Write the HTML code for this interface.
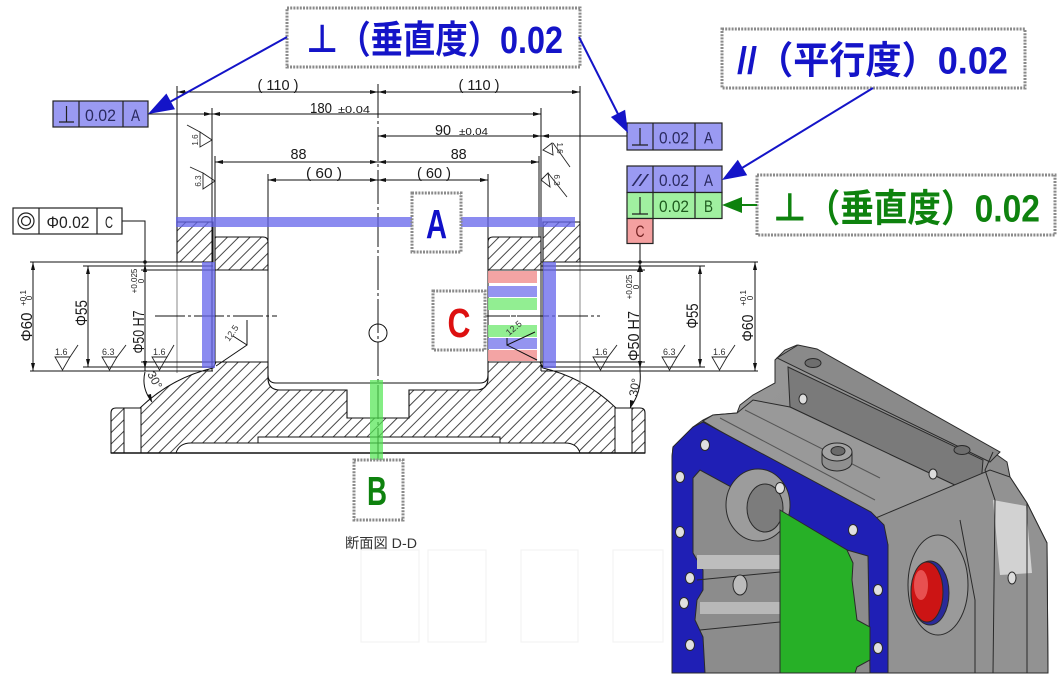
<!DOCTYPE html>
<html><head><meta charset="utf-8">
<style>html,body{margin:0;padding:0;background:#fff}svg{display:block}</style>
</head><body>
<svg width="1059" height="681" viewBox="0 0 1059 681" xmlns="http://www.w3.org/2000/svg" font-family="'Liberation Sans','Noto Sans CJK JP',sans-serif">
<defs>
<pattern id="h" width="8" height="8" patternUnits="userSpaceOnUse" patternTransform="rotate(45)"><rect width="8" height="8" fill="#fff"/><line x1="0.5" y1="0" x2="0.5" y2="8" stroke="#333" stroke-width="0.9"/></pattern>
<linearGradient id="gbody" x1="0" y1="0" x2="1" y2="1"><stop offset="0" stop-color="#9a9a9a"/><stop offset="1" stop-color="#858585"/></linearGradient>
</defs>
<rect width="1059" height="681" fill="#fff"/>

<!-- faint ghost rects -->
<g fill="none" stroke="#f3f3f3" stroke-width="1.2">
<rect x="361" y="550" width="58" height="92"/><rect x="428" y="550" width="58" height="92"/><rect x="521" y="550" width="57" height="92"/><rect x="613" y="550" width="50" height="92"/>
</g>

<!-- hatched section -->
<g stroke="#111" stroke-width="1.1" fill="url(#h)">
<path d="M177 222 H213 V262 H177 Z"/>
<path d="M215 237 H263 Q268 237 268 242 V270 H215 Z"/>
<path d="M543 222 H580 V262 H543 Z"/>
<path d="M541 237 H493 Q488 237 488 242 V270 H541 Z"/>
<path d="M213 368 L216 362 H268 V378 Q268 390 280 390 H347 V418 H409 V390 H476 Q488 390 488 378 V362 H540 L543 368 Q585 378 616 408 H640 Q645 408 645 413 V453 H111 V413 Q111 408 116 408 H140 Q171 378 213 368 Z"/>
</g>
<g fill="#fff" stroke="#111" stroke-width="1">
<rect x="124" y="408" width="17" height="45"/>
<rect x="615" y="408" width="17" height="45"/>
<path d="M258 437 H500 V443 H258 Z"/>
<path d="M176 453 Q179 443 191 443 H565 Q577 443 580 453 Z"/>
</g>
<line x1="111" y1="453" x2="645" y2="453" stroke="#111" stroke-width="1.4"/>

<!-- cavity, lines -->
<g stroke="#111" stroke-width="1" fill="none">
<path d="M268 174 V375 Q268 383 276 383 H480 Q488 383 488 375 V174"/>
<line x1="177" y1="86" x2="177" y2="222"/>
<line x1="580" y1="86" x2="580" y2="222"/>
<line x1="212" y1="108" x2="212" y2="371"/>
<line x1="215" y1="156" x2="215" y2="362"/>
<line x1="541" y1="108" x2="541" y2="371"/>
<line x1="539" y1="156" x2="539" y2="237"/>
<line x1="543" y1="262" x2="543" y2="368"/>
<line x1="177" y1="262" x2="177" y2="373" stroke="#888"/>
<line x1="580" y1="262" x2="580" y2="385" stroke="#888"/>
<line x1="30" y1="262" x2="213" y2="262"/>
<line x1="83" y1="266" x2="213" y2="266"/>
<line x1="141" y1="270" x2="215" y2="270"/>
<line x1="141" y1="362" x2="216" y2="362"/>
<line x1="83" y1="367" x2="213" y2="367"/>
<line x1="30" y1="371" x2="213" y2="371"/>
<line x1="541" y1="262" x2="758" y2="262"/>
<line x1="541" y1="266" x2="705" y2="266"/>
<line x1="541" y1="270" x2="645" y2="270"/>
<line x1="540" y1="362" x2="645" y2="362"/>
<line x1="541" y1="367" x2="705" y2="367"/>
<line x1="541" y1="371" x2="758" y2="371"/>
<line x1="378" y1="84" x2="378" y2="468" stroke-dasharray="34 3 3 3"/>
<line x1="155" y1="316" x2="277" y2="316" stroke-dasharray="30 3 3 3"/>
<line x1="480" y1="316" x2="600" y2="316" stroke-dasharray="30 3 3 3"/>
<circle cx="378" cy="333" r="9"/>
<line x1="177" y1="92" x2="580" y2="92"/>
<line x1="148" y1="114" x2="541" y2="114"/>
<line x1="378" y1="136" x2="627" y2="136"/>
<line x1="215" y1="162" x2="539" y2="162"/>
<line x1="268" y1="180" x2="488" y2="180"/>
<line x1="33" y1="262" x2="33" y2="371"/>
<line x1="88" y1="266" x2="88" y2="367"/>
<polyline points="122,221 145,221 145,371"/>
<line x1="640" y1="243" x2="640" y2="371"/>
<line x1="700" y1="266" x2="700" y2="367"/>
<line x1="755" y1="262" x2="755" y2="371"/>
<path d="M145 372 Q141 388 152 402"/>
<path d="M640 371 Q642 392 630 408"/>
<path d="M247 320 V345 L216 366 M233 336 L247 345"/>
</g>

<!-- arrowheads -->
<g fill="#111">
<polygon points="177,92 185,90 185,94"/><polygon points="378,92 370,90 370,94"/><polygon points="378,92 386,90 386,94"/><polygon points="580,92 572,90 572,94"/>
<polygon points="212,114 204,112 204,116"/><polygon points="212,114 220,112 220,116"/><polygon points="541,114 533,112 533,116"/>
<polygon points="378,136 386,134 386,138"/><polygon points="541,136 533,134 533,138"/><polygon points="541,136 549,134 549,138"/>
<polygon points="215,162 223,160 223,164"/><polygon points="378,162 370,160 370,164"/><polygon points="378,162 386,160 386,164"/><polygon points="539,162 531,160 531,164"/>
<polygon points="268,180 276,178 276,182"/><polygon points="378,180 370,178 370,182"/><polygon points="378,180 386,178 386,182"/><polygon points="488,180 480,178 480,182"/>
<polygon points="33,262 31,270 35,270"/><polygon points="33,371 31,363 35,363"/>
<polygon points="88,266 86,274 90,274"/><polygon points="88,367 86,359 90,359"/>
<polygon points="145,264 143,272 147,272"/><polygon points="145,369 143,361 147,361"/>
<polygon points="640,264 637,272 643,272"/><polygon points="640,369 638,361 642,361"/>
<polygon points="700,266 698,274 702,274"/><polygon points="700,367 698,359 702,359"/>
<polygon points="755,262 753,270 757,270"/><polygon points="755,371 753,363 757,363"/>
<polygon points="152,402 147,395 151,394"/><polygon points="630,408 630,400 634,401"/>
<circle cx="145" cy="262" r="1.8"/><circle cx="640" cy="262" r="1.8"/>
</g>

<!-- roughness symbols -->
<g stroke="#222" stroke-width="0.9" fill="none">
<polygon points="200,132 200,147 212,140"/><line x1="187" y1="125" x2="200" y2="132"/>
<polygon points="203,173 203,189 215,181"/><line x1="190" y1="167" x2="203" y2="173"/>
<polygon points="543,150 552,143 553,155"/><line x1="553" y1="143" x2="570" y2="167"/>
<polygon points="541,180 548,173 550,187"/><line x1="548" y1="173" x2="567" y2="197"/>
<polygon points="55,357 70,357 62.5,370"/><line x1="70" y1="357" x2="78" y2="345"/>
<polygon points="102,357 117,357 109.5,370"/><line x1="117" y1="357" x2="126" y2="345"/>
<polygon points="152,357 167,357 159.5,370"/><line x1="167" y1="357" x2="174" y2="345"/>
<polygon points="593,357 608,357 600.5,370"/><line x1="608" y1="357" x2="617" y2="345"/>
<polygon points="662,357 677,357 669.5,370"/><line x1="677" y1="357" x2="685" y2="345"/>
<polygon points="712,357 727,357 719.5,370"/><line x1="727" y1="357" x2="735" y2="345"/>
</g>
<g fill="#333" font-size="9">
<text x="55" y="355">1.6</text><text x="102" y="355">6.3</text><text x="153" y="355">1.6</text>
<text x="595" y="355">1.6</text><text x="663" y="355">6.3</text><text x="713" y="355">1.6</text>
<text transform="translate(198,140) rotate(-90)" text-anchor="middle" font-size="8">1.6</text>
<text transform="translate(201,181) rotate(-90)" text-anchor="middle" font-size="8">6.3</text>
<text transform="translate(557,148) rotate(90)" text-anchor="middle" font-size="8">1.6</text>
<text transform="translate(554,180) rotate(90)" text-anchor="middle" font-size="8">6.3</text>
<text transform="translate(229,342) rotate(-55)" font-size="9">12.5</text>
<text transform="translate(147,374) rotate(62)" font-size="12">30°</text>
<text transform="translate(637,397) rotate(-80)" font-size="12">30°</text>
</g>

<!-- dim texts -->
<g fill="#1a1a1a" font-size="15" text-anchor="middle">
<text x="278" y="90" textLength="41" lengthAdjust="spacingAndGlyphs">( 110 )</text>
<text x="479" y="90" textLength="41" lengthAdjust="spacingAndGlyphs">( 110 )</text>
<text x="321" y="113" textLength="22" lengthAdjust="spacingAndGlyphs">180</text>
<text x="443" y="135" textLength="16" lengthAdjust="spacingAndGlyphs">90</text>
<text x="298.5" y="159" textLength="16" lengthAdjust="spacingAndGlyphs">88</text>
<text x="458.7" y="159" textLength="16" lengthAdjust="spacingAndGlyphs">88</text>
<text x="324" y="178" textLength="36" lengthAdjust="spacingAndGlyphs">( 60 )</text>
<text x="434" y="178" textLength="34" lengthAdjust="spacingAndGlyphs">( 60 )</text>
</g>
<g fill="#1a1a1a" font-size="10">
<text x="338" y="113" textLength="32" lengthAdjust="spacingAndGlyphs">±0.04</text>
<text x="459" y="135" textLength="29" lengthAdjust="spacingAndGlyphs">±0.04</text>
</g>
<g fill="#1a1a1a" text-anchor="middle">
<text transform="translate(32,327) rotate(-90)" font-size="16" textLength="29" lengthAdjust="spacingAndGlyphs">Φ60</text>
<text transform="translate(26,298) rotate(-90)" font-size="8">+0.1</text>
<text transform="translate(32,298) rotate(-90)" font-size="8">0</text>
<text transform="translate(87,313) rotate(-90)" font-size="17" textLength="26" lengthAdjust="spacingAndGlyphs">Φ55</text>
<text transform="translate(144,332) rotate(-90)" font-size="16" textLength="43" lengthAdjust="spacingAndGlyphs">Φ50 H7</text>
<text transform="translate(137,281) rotate(-90)" font-size="8">+0.025</text>
<text transform="translate(144,281) rotate(-90)" font-size="8">0</text>
<text transform="translate(639,336) rotate(-90)" font-size="16" textLength="50" lengthAdjust="spacingAndGlyphs">Φ50 H7</text>
<text transform="translate(632,287) rotate(-90)" font-size="8">+0.025</text>
<text transform="translate(639,287) rotate(-90)" font-size="8">0</text>
<text transform="translate(698,316) rotate(-90)" font-size="17" textLength="25" lengthAdjust="spacingAndGlyphs">Φ55</text>
<text transform="translate(753,328) rotate(-90)" font-size="16" textLength="27" lengthAdjust="spacingAndGlyphs">Φ60</text>
<text transform="translate(746,298) rotate(-90)" font-size="8">+0.1</text>
<text transform="translate(753,298) rotate(-90)" font-size="8">0</text>
</g>
<text x="345" y="548" font-size="14" fill="#333" textLength="72" lengthAdjust="spacingAndGlyphs">断面図 D-D</text>

<!-- colored bands -->
<rect x="176" y="217" width="399" height="10" fill="#6464eb" fill-opacity="0.75"/>
<rect x="202" y="262" width="13" height="106" fill="#6464eb" fill-opacity="0.75"/>
<rect x="543" y="262" width="13" height="106" fill="#6464eb" fill-opacity="0.75"/>
<rect x="370" y="380" width="13" height="80" fill="#50e650" fill-opacity="0.7"/>
<g fill-opacity="0.9">
<rect x="488" y="271" width="49" height="12" fill="#f29a9a"/>
<rect x="488" y="286" width="49" height="11" fill="#8888ee"/>
<rect x="488" y="298" width="49" height="12" fill="#86ec86"/>
<rect x="488" y="325" width="49" height="12" fill="#86ec86"/>
<rect x="488" y="338" width="49" height="11" fill="#8888ee"/>
<rect x="488" y="350" width="49" height="11" fill="#f29a9a"/>
</g>
<line x1="488" y1="316" x2="537" y2="316" stroke="#111" stroke-dasharray="20 3 3 3"/>
<path d="M507 338 V345 L535 332 M507 345 L537 360" stroke="#111" fill="none"/>
<text transform="translate(509,336) rotate(-40)" font-size="9" fill="#333">12.5</text>

<!-- label boxes -->
<g fill="#fff" stroke="#8a8a8a" stroke-width="3" stroke-dasharray="2 1.2">
<rect x="412" y="193" width="49" height="59"/>
<rect x="433" y="291" width="52" height="59"/>
<rect x="354" y="460" width="49" height="60"/>
<rect x="287" y="8" width="293" height="59"/>
<rect x="722" y="29" width="303" height="59"/>
<rect x="757" y="175" width="298" height="60"/>
</g>
<g font-weight="bold" font-size="41" text-anchor="middle">
<text x="436.5" y="238" fill="#1010c8" textLength="21" lengthAdjust="spacingAndGlyphs">A</text>
<text x="459" y="337" fill="#dd1010" textLength="23" lengthAdjust="spacingAndGlyphs">C</text>
<text x="377" y="505" fill="#0e820e" textLength="20" lengthAdjust="spacingAndGlyphs">B</text>
</g>
<g font-weight="bold" font-size="38">
<text x="306" y="53" fill="#1414c8" textLength="257" lengthAdjust="spacingAndGlyphs">⊥（垂直度）0.02</text>
<text x="737" y="73.5" fill="#1414c8" textLength="271" lengthAdjust="spacingAndGlyphs">//（平行度）0.02</text>
<text x="773" y="221.5" fill="#0e820e" textLength="267" lengthAdjust="spacingAndGlyphs">⊥（垂直度）0.02</text>
</g>

<!-- FCFs -->
<g stroke="#222" stroke-width="1.2">
<rect x="53" y="101" width="95" height="26" fill="#9a9af2"/>
<line x1="79" y1="101" x2="79" y2="127"/><line x1="123" y1="101" x2="123" y2="127"/>
<path d="M59 122 H74 M66.5 106 V122" fill="none"/>
<rect x="627" y="123" width="95" height="27" fill="#9a9af2"/>
<line x1="653" y1="123" x2="653" y2="150"/><line x1="695" y1="123" x2="695" y2="150"/>
<path d="M632 145 H648 M640 128 V145" fill="none"/>
<rect x="627" y="166" width="95" height="26.5" fill="#9a9af2"/>
<rect x="627" y="192.5" width="95" height="26" fill="#a0f0a0"/>
<rect x="627" y="218.5" width="26" height="25" fill="#f4a0a0"/>
<line x1="653" y1="166" x2="653" y2="218.5"/><line x1="695" y1="166" x2="695" y2="218.5"/>
<path d="M632 214 H648 M640 197 V214" fill="none"/>
<rect x="13" y="208" width="109" height="26" fill="#fff"/>
<line x1="39" y1="208" x2="39" y2="234"/><line x1="97" y1="208" x2="97" y2="234"/>
<circle cx="26" cy="221" r="8" fill="none"/><circle cx="26" cy="221" r="4.5" fill="none"/>
</g>
<g fill="#2a2a60" font-size="17" text-anchor="middle">
<text x="100.5" y="121" textLength="31" lengthAdjust="spacingAndGlyphs">0.02</text>
<text x="135.5" y="121" textLength="9" lengthAdjust="spacingAndGlyphs">A</text>
<text x="674" y="143.5" textLength="30" lengthAdjust="spacingAndGlyphs">0.02</text>
<text x="708.5" y="143.5" textLength="9" lengthAdjust="spacingAndGlyphs">A</text>
<text x="640" y="186" textLength="14" lengthAdjust="spacingAndGlyphs" font-style="italic">//</text>
<text x="674" y="186" textLength="30" lengthAdjust="spacingAndGlyphs">0.02</text>
<text x="708.5" y="186" textLength="9" lengthAdjust="spacingAndGlyphs">A</text>
<text x="674" y="212" textLength="30" lengthAdjust="spacingAndGlyphs" fill="#1e5a1e">0.02</text>
<text x="708.5" y="212" textLength="9" lengthAdjust="spacingAndGlyphs" fill="#1e5a1e">B</text>
<text x="640" y="237" textLength="9" lengthAdjust="spacingAndGlyphs" fill="#702020">C</text>
<text x="68" y="228" textLength="43" lengthAdjust="spacingAndGlyphs" fill="#222">Φ0.02</text>
<text x="109" y="228" textLength="8" lengthAdjust="spacingAndGlyphs" fill="#222">C</text>
</g>

<!-- callout arrows -->
<g stroke="#1414c8" stroke-width="2">
<line x1="287" y1="37" x2="168" y2="103"/>
<line x1="579" y1="37" x2="618" y2="114"/>
<line x1="873" y1="88" x2="742" y2="168"/>
</g>
<g fill="#1414c8">
<polygon points="148,114 175,109.3 166.4,93.5"/>
<polygon points="628,133 625.1,109.8 610.9,117"/>
<polygon points="722,180 747.2,175.2 737.8,159.8"/>
</g>
<line x1="740" y1="205" x2="757" y2="205" stroke="#0e820e" stroke-width="2"/>
<polygon points="722,205 742,197 742,213" fill="#0e820e"/>

<!-- 3D model -->
<g stroke="#2a2a2a" stroke-width="1">
<polygon points="672,673 672,457 673,447 693,427 703,420 713,415 737,413 740,405 753,395 775,383 775,360 785,350 797,345 807,350 993,452 1007,462 1010,477 1027,503 1047,543 1048,673" fill="url(#gbody)"/>
<polygon points="777,358 798,345 817,349 1000,452 990,462" fill="#8a8a8a"/>
<polygon points="788,367 983,460 980,497 790,407" fill="#7a7a7a"/>
<polygon points="713,415 737,413 753,400 790,407 980,497 990,495 880,545 871,520 703,421" fill="#999"/>
<polygon points="871,520 990,470 1010,477 1027,503 1047,543 1048,673 888,673 888,545" fill="#929292"/>
<polygon points="993,500 1026,506 1032,573 1000,575" fill="#d2d2d2" stroke="none"/>
<polyline points="993,452 985,470 995,500 993,673" fill="none"/>
<polyline points="1027,503 1027,673" fill="none"/>
<polyline points="960,520 975,600 975,673" fill="none"/>
<line x1="745" y1="410" x2="880" y2="478" stroke="#555"/>
<line x1="720" y1="418" x2="875" y2="500" stroke="#555"/>
<ellipse cx="813" cy="363" rx="8" ry="4.5" fill="#6e6e6e"/>
<ellipse cx="962" cy="450" rx="8" ry="4.5" fill="#6e6e6e"/>
<ellipse cx="803" cy="399" rx="4" ry="5" fill="#ddd"/>
<ellipse cx="933" cy="474" rx="4" ry="5" fill="#ddd"/>
<ellipse cx="1012" cy="578" rx="4" ry="6" fill="#ddd"/>
<path d="M822 452 V462 A15 9 0 0 0 852 462 V452" fill="#8f8f8f"/>
<ellipse cx="837" cy="452" rx="15" ry="9" fill="#a3a3a3"/>
<ellipse cx="838" cy="451" rx="7" ry="4.5" fill="#6a6a6a"/>
<polygon points="672,673 672,457 673,447 693,427 703,422 871,512 884,525 888,545 888,673" fill="#1f1fb5"/>
<polygon points="705,673 703,637 695,620 697,600 703,590 703,570 693,553 693,478 700,470 847,550 868,556 870,673" fill="#8c8c8c"/>
<rect x="697" y="555" width="83" height="14" fill="#bdbdbd" stroke="none"/>
<rect x="700" y="602" width="80" height="12" fill="#b8b8b8" stroke="none"/>
<line x1="697" y1="580" x2="780" y2="572"/>
<line x1="700" y1="630" x2="780" y2="622"/>
<ellipse cx="758" cy="505" rx="32" ry="36" fill="#9c9c9c"/>
<ellipse cx="765" cy="508" rx="18" ry="24" fill="#7c7c7c"/>
<ellipse cx="740" cy="585" rx="7" ry="10" fill="#bbb"/>
<polygon points="780,510 847,550 853,563 852,580 857,620 870,627 870,660 857,667 855,673 780,673" fill="#27b027"/>
<g fill="#e0e0e0">
<ellipse cx="705" cy="445" rx="4.5" ry="5.5"/><ellipse cx="680" cy="477" rx="4.5" ry="5.5"/>
<ellipse cx="780" cy="488" rx="4.5" ry="5.5"/><ellipse cx="680" cy="532" rx="4.5" ry="5.5"/>
<ellipse cx="690" cy="578" rx="4.5" ry="5.5"/><ellipse cx="684" cy="603" rx="4.5" ry="5.5"/>
<ellipse cx="690" cy="645" rx="4.5" ry="5.5"/><ellipse cx="853" cy="530" rx="4.5" ry="5.5"/>
<ellipse cx="878" cy="590" rx="4.5" ry="5.5"/><ellipse cx="878" cy="648" rx="4.5" ry="5.5"/>
</g>
<ellipse cx="938" cy="585" rx="30" ry="50" fill="#9a9a9a"/>
<ellipse cx="930" cy="593" rx="19" ry="32" fill="#2a2a9a"/>
<ellipse cx="927" cy="592" rx="16" ry="30" fill="#cc1414"/>
<ellipse cx="921" cy="585" rx="7" ry="15" fill="#e85050" stroke="none"/>
</g>
</svg>
</body></html>
